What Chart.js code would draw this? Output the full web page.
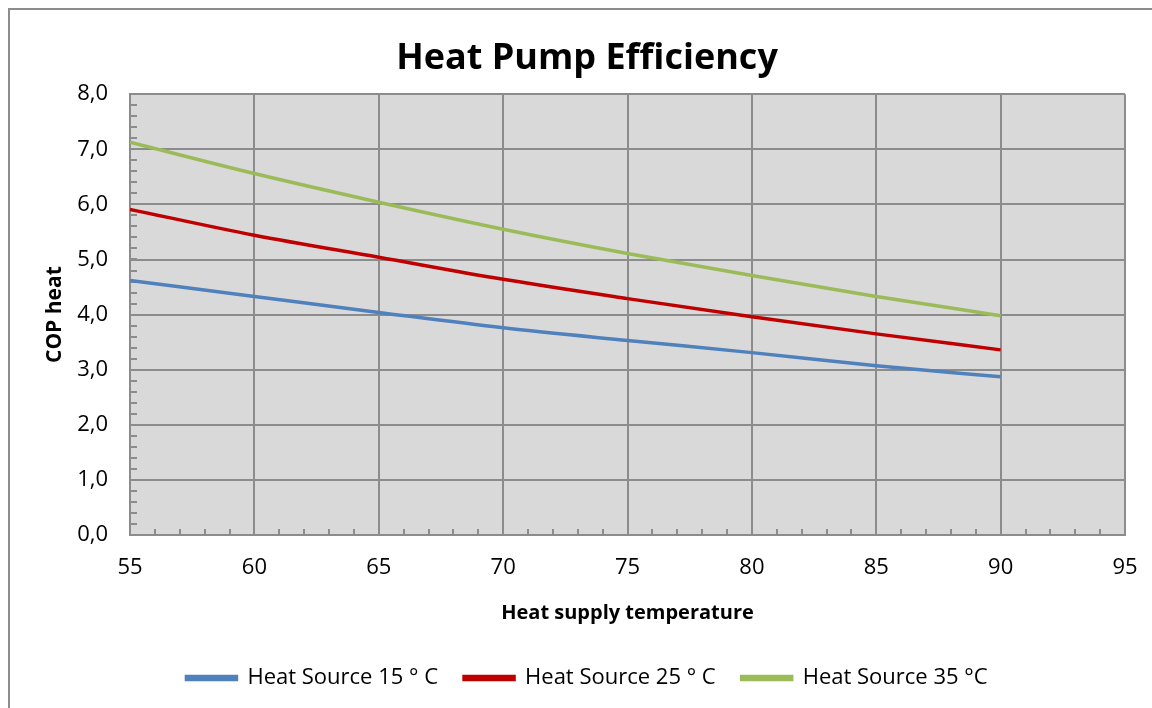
<!DOCTYPE html>
<html>
<head>
<meta charset="utf-8">
<script src="https://cdn.jsdelivr.net/npm/chart.js@4"></script>
<style>
  html, body { margin: 0; padding: 0; background: #fff; overflow: hidden; }
  #frame { position: absolute; left: 8px; top: 8px; width: 1300px; height: 900px;
           border-left: 2px solid #8c8c8c; border-top: 2px solid #8c8c8c; box-sizing: border-box; }
  #c { position: absolute; left: 0; top: 0; }
</style>
</head>
<body>
<div id="frame"></div>
<canvas id="c" width="1152" height="708"></canvas>
<script>
// data
const temps = [55, 60, 65, 70, 75, 80, 85, 90];
const cop15 = [4.62, 4.33, 4.04, 3.76, 3.53, 3.31, 3.07, 2.87];
const cop25 = [5.91, 5.44, 5.04, 4.64, 4.29, 3.96, 3.65, 3.36];
const cop35 = [7.13, 6.56, 6.04, 5.55, 5.11, 4.71, 4.33, 3.98];
const seriesNames = ['Heat Source 15 ° C', 'Heat Source 25 ° C', 'Heat Source 35 °C'];

const FONT = '"Open Sans", Lato, sans-serif';
const GRID = '#8c8c8c';

function pts(vals) {
  return temps.map((t, i) => ({ x: t, y: vals[i] }));
}

// grey plot area + small inside ticks like the spreadsheet chart
const plotArea = {
  id: 'plotArea',
  beforeDraw(chart) {
    const a = chart.chartArea, ctx = chart.ctx;
    ctx.save();
    ctx.fillStyle = '#d9d9d9';
    ctx.fillRect(a.left, a.top, a.right - a.left, a.bottom - a.top);
    ctx.restore();
  },
  beforeDatasetsDraw(chart) {
    const a = chart.chartArea, ctx = chart.ctx;
    const xs = chart.scales.x, ys = chart.scales.y;
    ctx.save();
    ctx.strokeStyle = GRID;
    ctx.lineWidth = 2;
    ctx.beginPath();
    for (let v = 0; v <= 8.001; v += 0.2) {
      const y = Math.round(ys.getPixelForValue(v));
      ctx.moveTo(a.left, y);
      ctx.lineTo(a.left + 7, y);
    }
    for (let v = 55; v <= 95; v += 1) {
      const x = Math.round(xs.getPixelForValue(v));
      ctx.moveTo(x, a.bottom);
      ctx.lineTo(x, a.bottom - 6);
    }
    ctx.stroke();
    ctx.restore();
  }
};

new Chart(document.getElementById('c'), {
  type: 'line',
  data: {
    datasets: [
      { label: seriesNames[0], data: pts(cop15), borderColor: '#4f81bd', backgroundColor: '#4f81bd' },
      { label: seriesNames[1], data: pts(cop25), borderColor: '#c00000', backgroundColor: '#c00000' },
      { label: seriesNames[2], data: pts(cop35), borderColor: '#9bbb59', backgroundColor: '#9bbb59' }
    ]
  },
  options: {
    responsive: false,
    animation: false,
    layout: { padding: { left: 22, right: 0, top: 0, bottom: 9 } },
    elements: {
      point: { radius: 0 },
      line: { borderWidth: 3.5, cubicInterpolationMode: 'monotone', fill: false }
    },
    plugins: {
      title: {
        display: true,
        text: 'Heat Pump Efficiency',
        color: '#000',
        font: { family: FONT, size: 36, weight: 'bold' },
        padding: { top: 37, bottom: 14 }
      },
      legend: {
        position: 'bottom',
        labels: {
          color: '#000',
          font: { family: FONT, size: 22 },
          boxWidth: 50,
          boxHeight: 3,
          padding: 26
        }
      },
      tooltip: { enabled: false }
    },
    scales: {
      x: {
        type: 'linear',
        min: 55,
        max: 95,
        ticks: { stepSize: 5, color: '#000', font: { family: FONT, size: 22 }, padding: 20 },
        grid: { color: GRID, lineWidth: 2, drawTicks: false },
        border: { color: GRID, width: 2 },
        title: {
          display: true,
          text: 'Heat supply temperature',
          color: '#000',
          font: { family: FONT, size: 20, weight: 'bold' },
          padding: { top: 16, bottom: 16 }
        },
        afterFit(scale) {
          scale.height = 106;
          scale.paddingRight = 27;
        }
      },
      y: {
        min: 0,
        max: 8,
        ticks: {
          stepSize: 1,
          color: '#000',
          font: { family: FONT, size: 22 },
          padding: 22,
          callback: v => v.toFixed(1).replace('.', ',')
        },
        grid: { color: GRID, lineWidth: 2, drawTicks: false },
        border: { color: GRID, width: 2 },
        title: {
          display: true,
          text: 'COP heat',
          color: '#000',
          font: { family: FONT, size: 21, weight: 'bold' },
          padding: { top: 20, bottom: 20 }
        },
        afterFit(scale) { scale.width = 108; }
      }
    }
  },
  plugins: [plotArea]
});
</script>
</body>
</html>
